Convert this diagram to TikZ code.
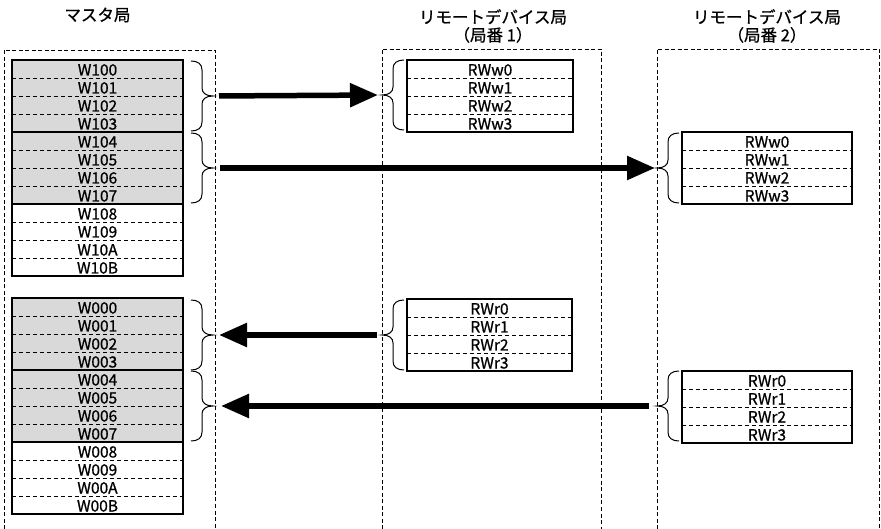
\documentclass[tikz,border=0pt]{standalone}
\usepackage{fontspec}
\setmainfont{Noto Sans CJK JP}[FakeBold=0.8]
\usepackage{tikz}
\usetikzlibrary{
    arrows.meta,
    positioning
}
\definecolor{regfill}{RGB}{217,217,217}
\tikzset{
    cell/.style={inner sep=0pt, minimum height=18pt, text height=13pt, text depth=0pt, font=\fontsize{15.5}{16}\selectfont},
    sep/.style={line width=1.3pt, dash pattern=on 4pt off 3pt},
    tbl/.style={line width=1.6pt},
    frame/.style={line width=0.8pt, dash pattern=on 4pt off 2.5pt},
    title/.style={align=center, font=\fontsize{16.5}{18}\selectfont},
    bus/.style={line width=5.5pt, -{Triangle[length=28pt, width=23pt]}},
    regbrace/.pic={
        \draw[line width=1pt] (0,0) .. controls (7,0) and (11,3) .. (11,9) -- (11,27)
            .. controls (11,32) and (15,35) .. (22,35) .. controls (15,35) and (11,38) .. (11,43)
            -- (11,61) .. controls (11,67) and (7,70) .. (0,70);
        \coordinate (-tip) at (22,35);
    }
}
\begin{document}
\begin{tikzpicture}[x=1pt, y=-1pt]
                        \useasboundingbox (0,0) rectangle (881,529);
                        \node[title] (tm) at (97.5,15) {マスタ局};
                        \node[title] (t1) at (493,26) {リモートデバイス局\\（局番 1）};
                        \node[title] (t2) at (767,26) {リモートデバイス局\\（局番 2）};
                        \draw[frame] (4,529) |- (215,50) -- (215,529);
                        \draw[frame] (382,529) |- (601,49) -- (601,529);
                        \draw[frame] (657,529) |- (879,49) -- (879,529);

                        \foreach \t/\f [count=\i from 0] in {W100/regfill,W101/regfill,W102/regfill,W103/regfill,W104/regfill,W105/regfill,W106/regfill,W107/regfill,W108/white,W109/white,W10A/white,W10B/white}
                            \node[cell, minimum width=171pt, fill=\f] (out\i) at (97.5,69+18*\i) {\t};
                        \foreach \t/\f [count=\i from 0] in {W000/regfill,W001/regfill,W002/regfill,W003/regfill,W004/regfill,W005/regfill,W006/regfill,W007/regfill,W008/white,W009/white,W00A/white,W00B/white}
                            \node[cell, minimum width=171pt, fill=\f] (in\i) at (97.5,307+18*\i) {\t};
                        \foreach \n in {out,in} {
                            \foreach \i in {0,1,2,4,5,6,8,9,10} \draw[sep] (\n\i.south west) -- (\n\i.south east);
                            \foreach \i in {3,7} \draw[tbl] (\n\i.south west) -- (\n\i.south east);
                            \draw[tbl] (\n0.north west) rectangle (\n11.south east);
                        }

                        \foreach \n/\x/\y/\w/\r in {sw/490/69/166/RWw, tw/767/141/170/RWw, sr/489.5/308/165/RWr, tr/767/380/170/RWr} {
                            \foreach \i in {0,...,3} \node[cell, minimum width=\w] (\n\i) at (\x,\y+18*\i) {\r\i};
                            \foreach \i in {0,1,2} \draw[sep] (\n\i.south west) -- (\n\i.south east);
                            \draw[tbl] (\n0.north west) rectangle (\n3.south east);
                        }

                        \pic (bo1) at (191,61) {regbrace};
                        \pic (bo2) at (191,133) {regbrace};
                        \pic (bi1) at (191,300) {regbrace};
                        \pic (bi2) at (191,371) {regbrace};
                        \pic[xscale=-1] (bw1) at (404,60) {regbrace};
                        \pic[xscale=-1] (bw2) at (679,133) {regbrace};
                        \pic[xscale=-1] (br1) at (404,300) {regbrace};
                        \pic[xscale=-1] (br2) at (679,371) {regbrace};

                        \draw[bus, shorten <=6pt, shorten >=4pt] (bo1-tip) -- (bw1-tip);
                        \draw[bus, shorten <=7pt, shorten >=2pt] (bo2-tip) -- (bw2-tip);
                        \draw[bus, shorten <=5pt, shorten >=6pt] (br1-tip) -- (bi1-tip);
                        \draw[bus, shorten <=8pt, shorten >=8pt] (br2-tip) -- (bi2-tip);
                    \end{tikzpicture}
\end{document}
